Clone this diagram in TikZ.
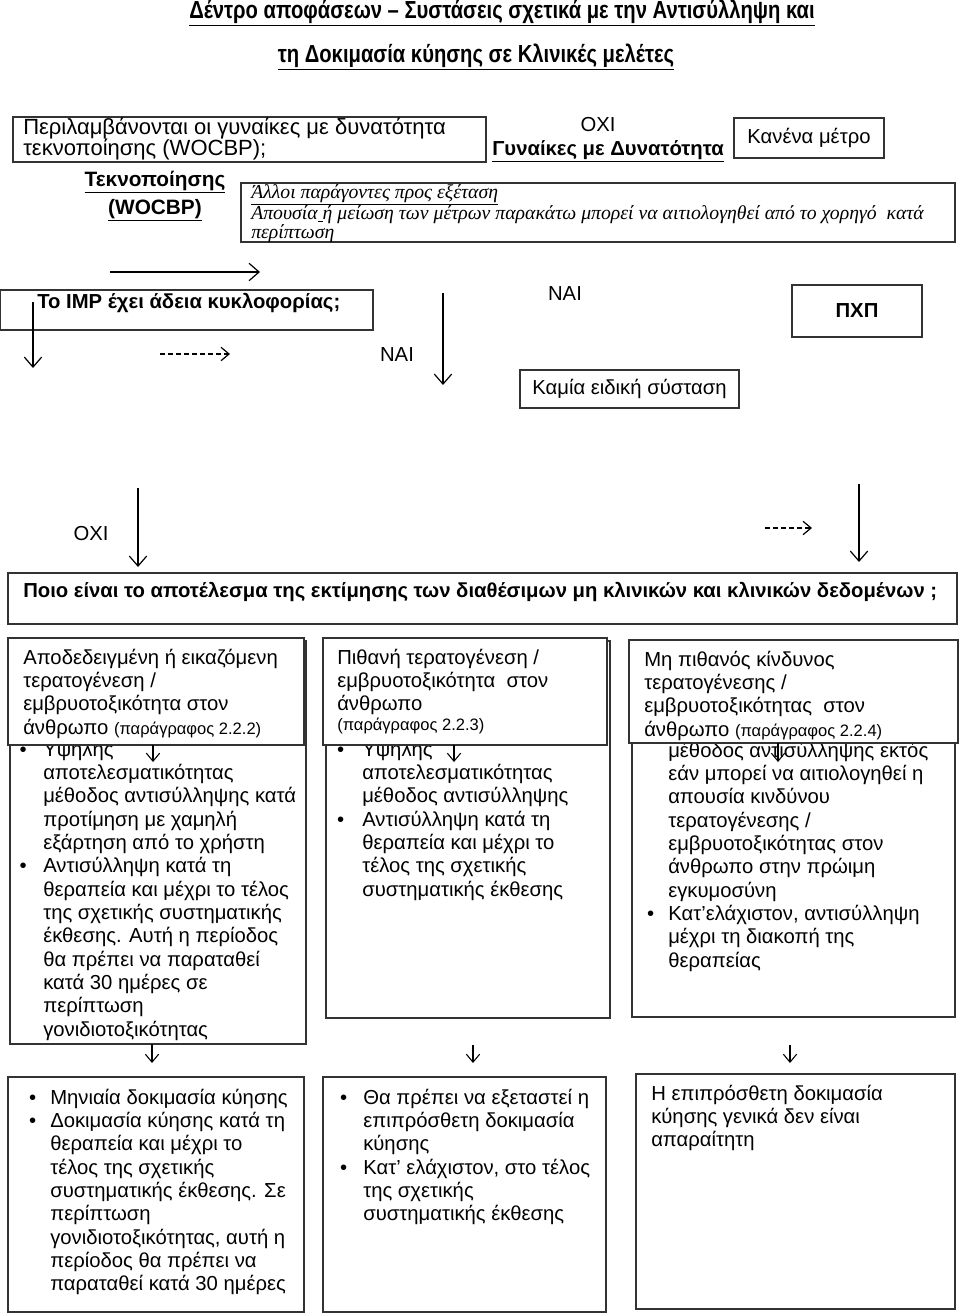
\documentclass[tikz,border=0pt]{standalone}
\usepackage{fontspec}
\setmainfont{Liberation Sans}
\newfontfamily\timesf{Liberation Serif}
\newfontfamily\narrowf[FakeStretch=0.82]{Liberation Sans}
\usetikzlibrary{arrows.meta}
\newcommand\bodyf{\fontsize{15.2}{17.5}\selectfont}
\newcommand\smallf{\fontsize{12.4}{17.5}\selectfont}
\begin{document}
\begin{tikzpicture}[x=0.75pt,y=-0.75pt,
  box/.style={draw=black!80,line width=1.1pt},
  wbox/.style={draw=black!80,line width=1.1pt,fill=white},
  txt/.style={inner sep=0pt,anchor=north west,align=left,font=\bodyf},
  lbl/.style={inner sep=0pt,font=\bodyf},
  arr/.style={draw=black,line width=0.9pt,-{Straight Barb[length=7.5pt,width=13pt,line width=0.9pt]}},
  darr/.style={draw=black,line width=0.9pt,dash pattern=on 3.75pt off 2.25pt,-{Straight Barb[length=6pt,width=10pt,line width=0.9pt]}},
  sarr/.style={draw=black,line width=0.8pt,-{Straight Barb[length=6pt,width=10pt,line width=0.8pt]}}]
\useasboundingbox (0,0) rectangle (960,1313);
\fill[white] (0,0) rectangle (960,1313);
% title
\node[inner sep=0pt,font=\narrowf\bfseries\fontsize{18.5}{20}\selectfont] (t1) at (502,13) {\underline{Δέντρο αποφάσεων – Συστάσεις σχετικά με την Αντισύλληψη και}};
\node[inner sep=0pt,font=\narrowf\bfseries\fontsize{18.5}{20}\selectfont] (t2) at (476,57) {\underline{τη Δοκιμασία κύησης σε Κλινικές μελέτες}};
% question 1
\draw[box] (13,117) rectangle (486,162);
\node[txt,font=\fontsize{16.5}{14.25}\selectfont] (q1) at (23,118) {\strut Περιλαμβάνονται οι γυναίκες με δυνατότητα\\[-2.5pt]τεκνοποίησης (WOCBP);};
\node[lbl,font=\bfseries\fontsize{15.6}{17.5}\selectfont,align=center] (tek) at (155,196) {\underline{Τεκνοποίησης}\\[3.5pt]\underline{(WOCBP)}};
\node[lbl] (oxi1) at (598,125) {ΟΧΙ};
\node[lbl,font=\bfseries\bodyf] (gyn) at (608,151) {\underline{Γυναίκες με Δυνατότητα}};
\node[box,lbl,minimum width=112.5pt,minimum height=30pt] (kan) at (809,138) {Κανένα μέτρο};
\draw[box] (241,183) rectangle (955,242);
\node[txt,font=\timesf\itshape\fontsize{14.8}{14.6}\selectfont] (oth) at (251,184.5) {\strut\underline{Άλλοι παράγοντες προς εξέταση}\\[-0.8pt]Απουσία\underline{\ }ή μείωση των μέτρων παρακάτω μπορεί να αιτιολογηθεί από το χορηγό \ κατά\\[-0.8pt]περίπτωση};
% IMP row
\coordinate (a1s) at (110,272); \coordinate (a1e) at (260,272);
\draw[arr] (a1s) -- (a1e);
\draw[box] (0,290) rectangle (373,330);
\node[lbl,anchor=west,font=\bfseries\bodyf] (imp) at (37,303) {Το IMP έχει άδεια κυκλοφορίας;};
\coordinate (a2s) at (33,302); \coordinate (a2e) at (33,368);
\draw[arr] (a2s) -- (a2e);
\coordinate (d1s) at (160,354); \coordinate (d1e) at (230,354);
\draw[darr] (d1s) -- (d1e);
\node[lbl] (nai1) at (397,355) {ΝΑΙ};
\coordinate (a3s) at (443,293); \coordinate (a3e) at (443,385);
\draw[arr] (a3s) -- (a3e);
\node[lbl] (nai2) at (565,294) {ΝΑΙ};
\node[box,lbl,font=\bfseries\bodyf,minimum width=97.5pt,minimum height=39pt] (pxp) at (857,311) {ΠΧΠ};
\node[box,lbl,minimum width=164.25pt,minimum height=28.5pt] (kam) at (629.5,389) {Καμία ειδική σύσταση};
% second question
\coordinate (a4s) at (138,488); \coordinate (a4e) at (138,567);
\draw[arr] (a4s) -- (a4e);
\node[lbl] (oxi2) at (91,534) {ΟΧΙ};
\coordinate (d2s) at (765,528); \coordinate (d2e) at (812,528);
\draw[darr] (d2s) -- (d2e);
\coordinate (a5s) at (859,484); \coordinate (a5e) at (859,562);
\draw[arr] (a5s) -- (a5e);
\draw[box] (8,573) rectangle (957,624);
\node[lbl,anchor=west,font=\bfseries\bodyf] (q2) at (23,592) {Ποιο είναι το αποτέλεσμα της εκτίμησης των διαθέσιμων μη κλινικών και κλινικών δεδομένων ;};
% column boxes
\draw[box] (10,641) rectangle (306,1044);
\draw[box] (326,641) rectangle (610,1018);
\draw[box] (632,641) rectangle (955,1017);
\node[txt] (b1) at (43,739.7) {\strut\llap{\textbullet\hspace{12.5pt}}Υψηλής\\αποτελεσματικότητας\\μέθοδος αντισύλληψης κατά\\προτίμηση με χαμηλή\\εξάρτηση από το χρήστη\\\llap{\textbullet\hspace{12.5pt}}Αντισύλληψη κατά τη\\θεραπεία και μέχρι το τέλος\\της σχετικής συστηματικής\\έκθεσης. Αυτή η περίοδος\\θα πρέπει να παραταθεί\\κατά 30 ημέρες σε\\περίπτωση\\γονιδιοτοξικότητας};
\node[txt] (b2) at (362,739.7) {\strut\llap{\textbullet\hspace{13.5pt}}Υψηλής\\αποτελεσματικότητας\\μέθοδος αντισύλληψης\\\llap{\textbullet\hspace{13.5pt}}Αντισύλληψη κατά τη\\θεραπεία και μέχρι το\\τέλος της σχετικής\\συστηματικής έκθεσης};
\node[txt] (b3) at (668,740.7) {\strut μέθοδος αντισύλληψης εκτός\\εάν μπορεί να αιτιολογηθεί η\\απουσία κινδύνου\\τερατογένεσης /\\εμβρυοτοξικότητας στον\\άνθρωπο στην πρώιμη\\εγκυμοσύνη\\\llap{\textbullet\hspace{10.5pt}}Κατ’ελάχιστον, αντισύλληψη\\μέχρι τη διακοπή της\\θεραπείας};
% column headers
\draw[wbox] (8,638) rectangle (304,745);
\node[txt] (h1) at (23,647.7) {\strut Αποδεδειγμένη ή εικαζόμενη\\τερατογένεση /\\εμβρυοτοξικότητα στον\\άνθρωπο {\smallf (παράγραφος 2.2.2)}};
\draw[wbox] (323,638) rectangle (607,745);
\node[txt] (h2) at (337,647.7) {\strut Πιθανή τερατογένεση /\\εμβρυοτοξικότητα \ στον\\άνθρωπο\\[-3pt]{\smallf (παράγραφος 2.2.3)}};
\draw[wbox] (629,640) rectangle (958,743);
\node[txt] (h3) at (644,649.7) {\strut Μη πιθανός κίνδυνος\\τερατογένεσης /\\εμβρυοτοξικότητας \ στον\\άνθρωπο {\smallf (παράγραφος 2.2.4)}};
% small arrows
\coordinate (s1s) at (153,745); \coordinate (s1e) at (153,762);
\coordinate (s2s) at (454,745); \coordinate (s2e) at (454,762);
\coordinate (s3s) at (778,743); \coordinate (s3e) at (778,762);
\draw[sarr] (s1s) -- (s1e);
\draw[sarr] (s2s) -- (s2e);
\draw[sarr] (s3s) -- (s3e);
\coordinate (u1s) at (152,1044); \coordinate (u1e) at (152,1063);
\coordinate (u2s) at (473,1045); \coordinate (u2e) at (473,1063);
\coordinate (u3s) at (790,1045); \coordinate (u3e) at (790,1063);
\draw[sarr] (u1s) -- (u1e);
\draw[sarr] (u2s) -- (u2e);
\draw[sarr] (u3s) -- (u3e);
% bottom boxes
\draw[box] (8,1077) rectangle (304,1312);
\node[txt] (r1) at (50,1087.7) {\strut\llap{\textbullet\hspace{10.5pt}}Μηνιαία δοκιμασία κύησης\\\llap{\textbullet\hspace{10.5pt}}Δοκιμασία κύησης κατά τη\\θεραπεία και μέχρι το\\τέλος της σχετικής\\συστηματικής έκθεσης. Σε\\περίπτωση\\γονιδιοτοξικότητας, αυτή η\\περίοδος θα πρέπει να\\παραταθεί κατά 30 ημέρες};
\draw[box] (323,1077) rectangle (606,1312);
\node[txt] (r2) at (363,1087.7) {\strut\llap{\textbullet\hspace{12pt}}Θα πρέπει να εξεταστεί η\\επιπρόσθετη δοκιμασία\\κύησης\\\llap{\textbullet\hspace{12pt}}Κατ’ ελάχιστον, στο τέλος\\της σχετικής\\συστηματικής έκθεσης};
\draw[box] (636,1074) rectangle (955,1309);
\node[txt] (r3) at (651,1083.7) {\strut Η επιπρόσθετη δοκιμασία\\κύησης γενικά δεν είναι\\απαραίτητη};
\end{tikzpicture}
\end{document}
